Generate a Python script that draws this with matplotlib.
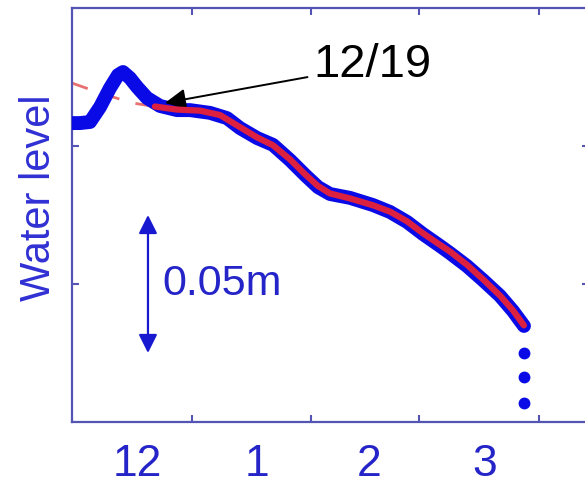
#!/usr/bin/env python3
"""Water level decline after 12/19, observed (blue) vs fitted trend (red)."""
import matplotlib
matplotlib.use('Agg')
import matplotlib.pyplot as plt
from matplotlib.ticker import FixedLocator, NullFormatter, FixedFormatter

plt.rcParams['font.family'] = ['Liberation Sans', 'DejaVu Sans']

# x in days since Dec 1, y in metres
obs_day = [0.0, 2.07, 4.67, 7.26, 9.85, 11.93, 13.23, 15.04, 16.86, 19.45, 22.82,
           27.23, 30.60, 35.79, 40.20, 43.57, 47.98, 52.13, 56.54, 60.43, 63.80,
           66.91, 72.10, 78.06, 82.47, 86.88, 91.03, 95.44, 98.03, 102.44, 106.59,
           111.00, 114.37, 117.22]
obs_level = [0.1083, 0.1083, 0.1087, 0.1141, 0.1210, 0.1257, 0.1268, 0.1246, 0.1214,
             0.1174, 0.1145, 0.1130, 0.1130, 0.1120, 0.1101, 0.1065, 0.1029, 0.1004,
             0.0949, 0.0895, 0.0851, 0.0826, 0.0812, 0.0786, 0.0761, 0.0725, 0.0681,
             0.0638, 0.0612, 0.0565, 0.0514, 0.0457, 0.0402, 0.0348]

fit_day = [21.5, 27.2, 33.2, 38.4, 43.6, 48.0, 52.1, 56.5, 60.4, 63.8, 66.9, 72.1,
           78.1, 82.5, 86.9, 91.0, 95.4, 98.0, 102.4, 106.6, 111.0, 114.4, 117.2]
fit_level = [0.1143, 0.1132, 0.1128, 0.1112, 0.1068, 0.1031, 0.1003, 0.0952, 0.0898,
             0.0855, 0.0828, 0.0810, 0.0785, 0.0762, 0.0727, 0.0684, 0.0642, 0.0618,
             0.0570, 0.0517, 0.0458, 0.0404, 0.0350]

extrap_day = [0.0, 7.26, 15.56, 21.5]
extrap_level = [0.1228, 0.1192, 0.1156, 0.1143]

tail_day = [117.22, 117.22, 117.22]
tail_level = [0.0250, 0.0163, 0.0069]

month_starts = [31, 62, 90, 121]
month_mids = [17, 48, 77, 107]
month_labels = ['12', '1', '2', '3']

scale_day = 19.7
scale_lo, scale_hi = 0.025, 0.075

mark_day, mark_level = 24.1, 0.1156
mark_text_day, mark_text_level = 62.5, 0.1292

AXIS_C = '#5454b4'
TEXT_C = '#2424c8'

fig = plt.figure(figsize=(5.85, 4.84), dpi=100)
ax = fig.add_axes([0.1231, 0.1281, 0.8832, 0.8554])

ax.plot(extrap_day, extrap_level, color='#e87070', lw=2, dashes=(6, 6), zorder=2)
ax.plot(obs_day, obs_level, color='#0a0ae6', lw=10, solid_capstyle='round',
        solid_joinstyle='round', zorder=3)
ax.plot(fit_day, fit_level, color='#dc2040', lw=4.5, solid_capstyle='round',
        solid_joinstyle='round', zorder=4)
ax.plot(tail_day, tail_level, 'o', color='#0a0ae6', ms=7.5, zorder=3)

# scale bar
ax.annotate('', xy=(scale_day, scale_hi), xytext=(scale_day, scale_lo),
            arrowprops=dict(arrowstyle='<|-|>', color='#1818d0', lw=1.6,
                            mutation_scale=28, shrinkA=0, shrinkB=0))
ax.text(scale_day + 3.7, (scale_lo + scale_hi) / 2, '0.05m', color=TEXT_C,
        fontsize=31, ha='left', va='center')

ax.annotate('12/19', xy=(mark_day, mark_level), xytext=(mark_text_day, mark_text_level),
            fontsize=34, color='k', ha='left', va='center',
            arrowprops=dict(arrowstyle='-|>', color='k', lw=1.4, mutation_scale=32,
                            shrinkA=2, shrinkB=0))

ax.set_xlim(0, 134)
ax.set_ylim(0, 0.15)

ax.xaxis.set_major_locator(FixedLocator(month_starts))
ax.xaxis.set_major_formatter(NullFormatter())
ax.xaxis.set_minor_locator(FixedLocator(month_mids))
ax.xaxis.set_minor_formatter(FixedFormatter(month_labels))
ax.set_yticks([0.05, 0.10])
ax.set_yticklabels([])

ax.tick_params(which='major', direction='in', length=5, width=1.5, color=AXIS_C,
               top=True, right=True)
ax.tick_params(axis='x', which='minor', length=0, pad=16, labelsize=32,
               labelcolor=TEXT_C)

for s in ax.spines.values():
    s.set_color(AXIS_C)
    s.set_linewidth(1.6)

ax.set_ylabel('Water level', fontsize=30, color='#3030d4')
ax.yaxis.set_label_coords(-0.026, 0.541)

fig.savefig('out.png', dpi=100)
